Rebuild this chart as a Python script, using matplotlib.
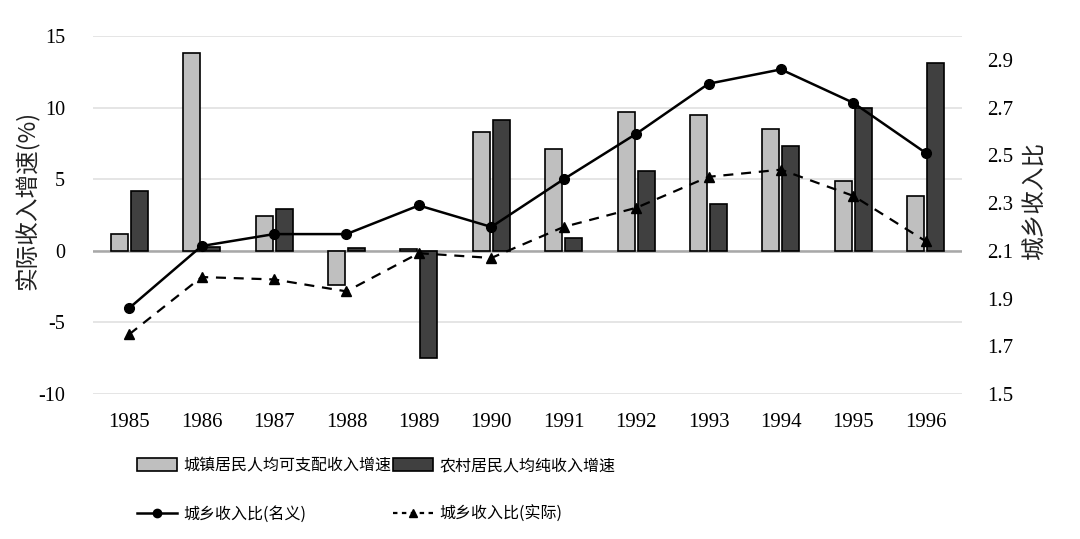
import matplotlib
matplotlib.use("Agg")
import matplotlib.pyplot as plt
import numpy as np
from matplotlib.patches import Patch
from matplotlib.lines import Line2D

years = ["1985", "1986", "1987", "1988", "1989", "1990", "1991", "1992", "1993", "1994", "1995", "1996"]
urban_growth = [1.2, 13.8, 2.4, -2.4, 0.1, 8.3, 7.1, 9.7, 9.5, 8.5, 4.9, 3.8]
rural_growth = [4.2, 0.3, 2.9, 0.2, -7.5, 9.1, 0.9, 5.6, 3.3, 7.3, 10.0, 13.1]
ratio_nominal = [1.86, 2.12, 2.17, 2.17, 2.29, 2.20, 2.40, 2.59, 2.80, 2.86, 2.72, 2.51]
ratio_real = [1.75, 1.99, 1.98, 1.93, 2.09, 2.07, 2.20, 2.28, 2.41, 2.44, 2.33, 2.14]
left_ticks = [-10, -5, 0, 5, 10, 15]
right_ticks = [1.5, 1.7, 1.9, 2.1, 2.3, 2.5, 2.7, 2.9]

labels = ["城镇居民人均可支配收入增速", "农村居民人均纯收入增速", "城乡收入比(名义)", "城乡收入比(实际)"]
ylabel_left = "实际收入增速(%)"
ylabel_right = "城乡收入比"

plt.rcParams["axes.unicode_minus"] = False
cjk = ["Noto Sans CJK SC", "DejaVu Sans"]
serif = ["Liberation Serif", "DejaVu Serif"]

fig = plt.figure(figsize=(10.8, 5.39), dpi=100)
ax = fig.add_axes([93/1080, 1-394/539, (962-93)/1080, (394-36)/539])

x = np.arange(len(years))
w = 0.235
off = 0.138
light = "#bfbfbf"
dark = "#404040"

ax.set_ylim(-10, 15)
ax.set_xlim(-0.5, len(years)-0.5)
ax.set_yticks(left_ticks)
ax.grid(axis="y", color="#e3e3e3", linewidth=1.3)
ax.set_axisbelow(True)
ax.axhline(0, color="#a8a8a8", linewidth=1.8, zorder=1)

ax.bar(x - off, urban_growth, width=w, color=light, edgecolor="black", linewidth=1.2, zorder=2)
ax.bar(x + off, rural_growth, width=w, color=dark, edgecolor="black", linewidth=1.2, zorder=2)

for s in ax.spines.values():
    s.set_visible(False)
ax.tick_params(axis="both", length=0)
ax.tick_params(axis="y", pad=20)
ax.tick_params(axis="x", pad=14)
ax.set_xticks(x)
ax.set_xticklabels(years, fontfamily=serif, fontsize=15)
for t in ax.get_yticklabels():
    t.set_fontfamily(serif)
    t.set_fontsize(14.5)
ax.set_ylabel(ylabel_left, fontfamily=cjk, fontsize=17, color="#222222")
ax.yaxis.set_label_coords((40-93)/869, 0.54)

ax2 = ax.twinx()
ax2.set_ylim(1.5, 3.0)
ax2.set_yticks(right_ticks)
ax2.set_yticklabels([f"{v:.1f}" for v in right_ticks], fontfamily=serif, fontsize=15)
ax2.tick_params(axis="y", length=0, pad=18)
for s in ax2.spines.values():
    s.set_visible(False)
ax2.plot(x, ratio_nominal, color="black", linewidth=1.8, marker="o", markersize=7, zorder=5)
ax2.plot(x, ratio_real, color="black", linewidth=1.6, linestyle=(0, (4.5, 3.5)), marker="^", markersize=7, zorder=5)
ax2.set_ylabel(ylabel_right, fontfamily=cjk, fontsize=17, color="#222222")
ax2.yaxis.set_label_coords((1024-93)/869, 0.54)

handles = [
    Patch(facecolor=light, edgecolor="black", linewidth=1.2),
    Line2D([], [], color="black", linewidth=1.8, marker="o", markersize=6),
    Patch(facecolor=dark, edgecolor="black", linewidth=1.2),
    Line2D([], [], color="black", linewidth=1.6, linestyle=(0, (2, 2)), marker="^", markersize=6),
]
leg_labels = [labels[0], labels[2], labels[1], labels[3]]
fig.legend(handles, leg_labels, loc="upper left", bbox_to_anchor=(137/1080, 1-457/539),
           ncol=2, frameon=False, borderaxespad=0, borderpad=0,
           prop={"family": cjk, "size": 11.5}, handlelength=2.5, handleheight=0.9,
           handletextpad=0.4, columnspacing=0.1, labelspacing=2.0)

fig.savefig("out.png", dpi=100)
